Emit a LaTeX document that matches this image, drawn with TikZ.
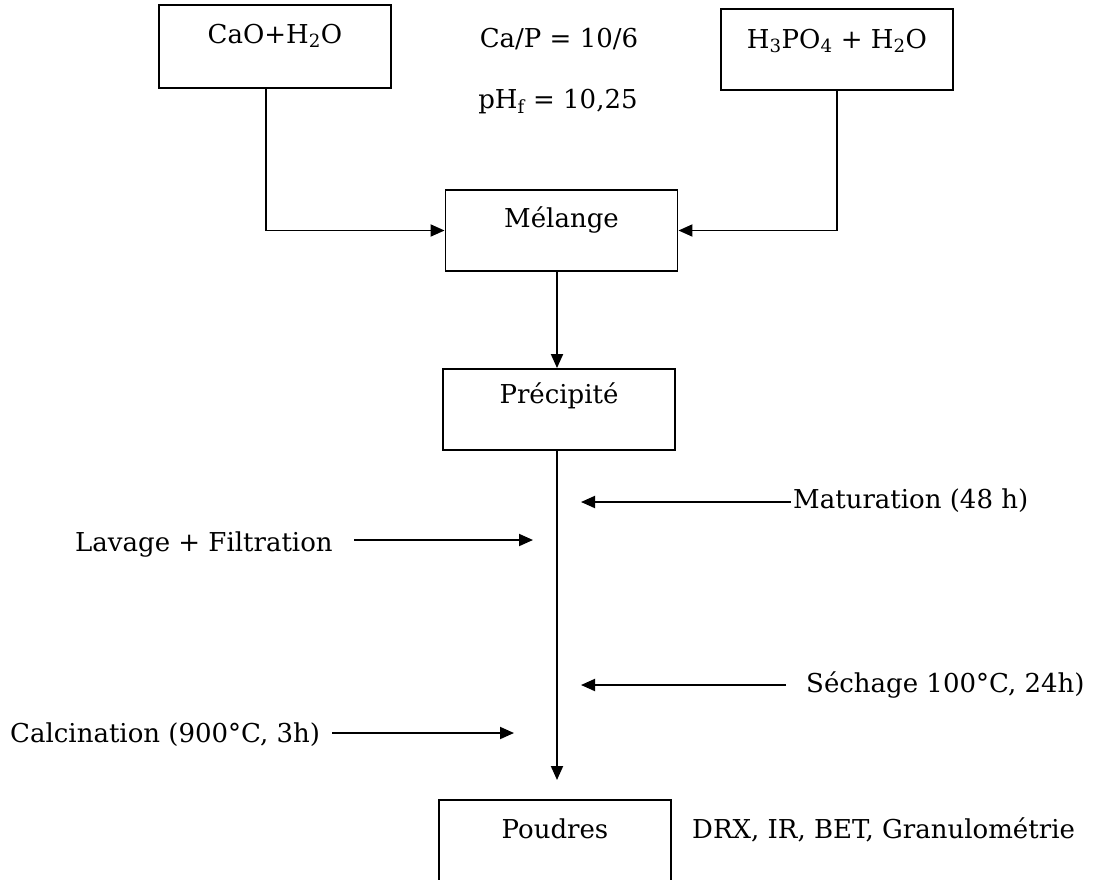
\documentclass[tikz,border=0pt]{standalone}
\usepackage{fontspec}
\setmainfont{DejaVu Serif}
\usetikzlibrary{arrows.meta}
\newcommand\diagfont{\fontsize{26pt}{31pt}\selectfont}
\begin{document}
\begin{tikzpicture}[x=1pt,y=-1pt,
  every node/.style={font=\diagfont},
  box/.style={draw, line width=1.9pt, inner sep=0pt, anchor=base, minimum width=232pt},
  lbl/.style={inner sep=0pt, anchor=base west},
  clbl/.style={inner sep=0pt, anchor=base},
  arr/.style={line width=1.9pt, -{Triangle[length=14pt,width=12pt]}}]
\useasboundingbox (0,0) rectangle (1106,879);
% boxes
\node[box, text height=38pt, text depth=45pt] (cao) at (275,43) {CaO+H\textsubscript{2}O};
\node[box, text height=39pt, text depth=42pt] (h3) at (837,48) {H\textsubscript{3}PO\textsubscript{4} + H\textsubscript{2}O};
\node[box, text height=37pt, text depth=44pt] (mel) at (561.5,227) {Mélange};
\node[box, text height=34pt, text depth=47pt] (prec) at (559,403) {Précipité};
\node[box, text height=38pt, text depth=55pt] (poud) at (555,838) {Poudres};
% texts
\node[clbl] (ratio) at (559,47) {Ca/P = 10/6};
\node[clbl] (ph) at (558,108) {pH\textsubscript{f} = 10,25};
\node[lbl] (mat) at (793,508) {Maturation (48 h)};
\node[lbl] (lav) at (75,551) {Lavage + Filtration};
\node[lbl] (sech) at (806,692) {Séchage 100°C, 24h)};
\node[lbl] (calc) at (10,742) {Calcination (900°C, 3h)};
\node[lbl] (drx) at (692,838) {DRX, IR, BET, Granulométrie};
% coordinates
\coordinate (spine) at (557,0);
\coordinate (spend) at (557,780);
\coordinate (matA) at (791,502);
\coordinate (matB) at (581,502);
\coordinate (lavA) at (354,540);
\coordinate (lavB) at (533,540);
\coordinate (sechA) at (786,685);
\coordinate (sechB) at (581,685);
\coordinate (calcA) at (332,733);
\coordinate (calcB) at (514,733);
% connectors
\draw[arr] ([xshift=-9pt]cao.south) |- (mel.west);
\draw[arr] (h3.south) |- (mel.east);
\draw[arr] (mel.south -| spine) -- (prec.north -| spine);
\draw[arr] (prec.south -| spine) -- (spend);
\draw[arr] (matA) -- (matB);
\draw[arr] (lavA) -- (lavB);
\draw[arr] (sechA) -- (sechB);
\draw[arr] (calcA) -- (calcB);
\end{tikzpicture}
\end{document}
